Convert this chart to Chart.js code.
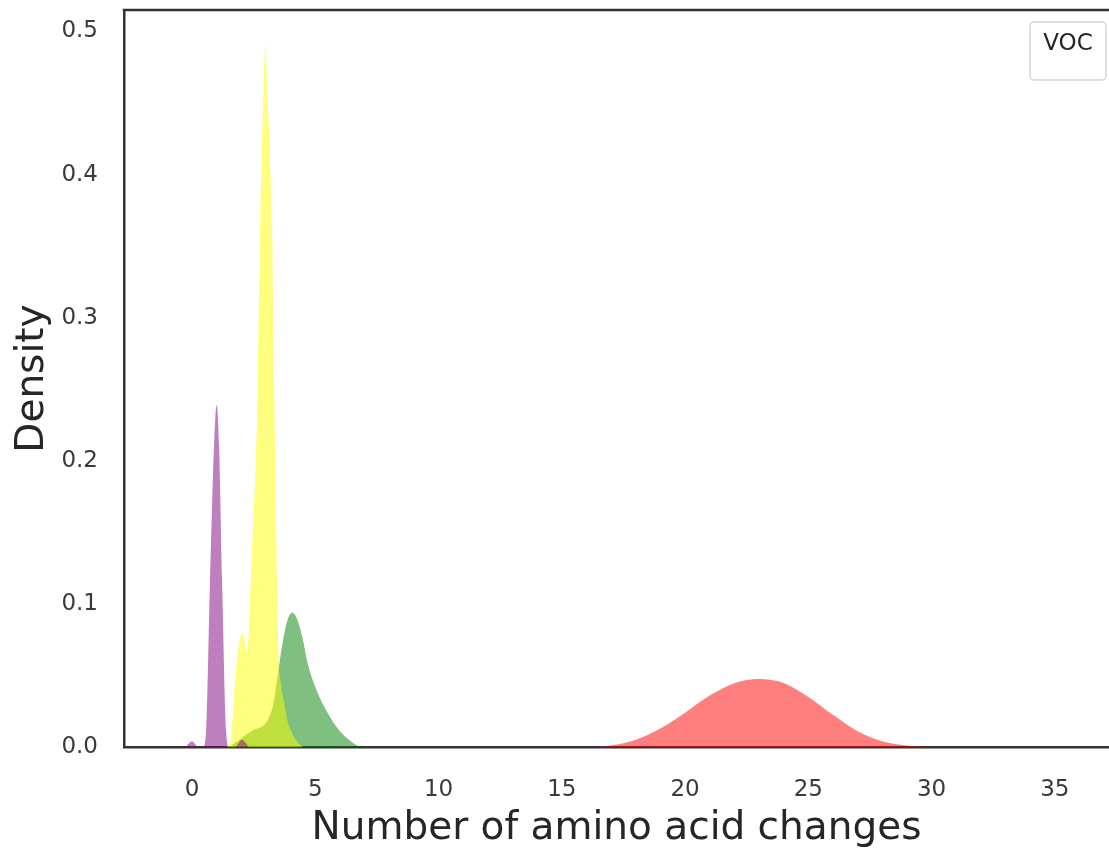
<!DOCTYPE html>
<html>
<head>
<meta charset="utf-8">
<script src="https://cdn.jsdelivr.net/npm/chart.js@4.4.0/dist/chart.umd.min.js"></script>
<style>
  body { margin: 0; background: #fff; }
  #wrap { width: 1109px; height: 852px; }
</style>
</head>
<body>
<div id="wrap"><canvas id="kdeChart" width="1109" height="852"></canvas></div>
<script>
	// density curves (x = amino acid changes, y = density)
	const purpleX = [-0.25, 0, 0.25, 0.45, 0.57, 0.73, 0.89, 1.0, 1.1, 1.22, 1.38, 1.5, 1.75, 2.03, 2.3];
	const purpleY = [0, 0.004, 0, 0, 0.012, 0.117, 0.21, 0.239, 0.21, 0.117, 0.012, 0, 0, 0.005, 0];

	const yellowX = [1.3, 1.55, 1.75, 1.9, 2.03, 2.15, 2.23, 2.44, 2.64, 2.76, 2.9, 2.97, 3.05, 3.25, 3.33, 3.5, 3.6, 3.75, 3.86, 4.0, 4.25, 4.5];
	const yellowY = [0, 0.003, 0.047, 0.072, 0.08, 0.072, 0.066, 0.14, 0.233, 0.36, 0.46, 0.491, 0.46, 0.36, 0.257, 0.07, 0.045, 0.03, 0.019, 0.012, 0.004, 0];

	const greenX = [1.5, 2.0, 2.5, 2.9, 3.1, 3.3, 3.45, 3.6, 3.75, 3.9, 4.07, 4.25, 4.5, 4.67, 5.0, 5.5, 6.0, 6.3, 6.7, 7.0];
	const greenY = [0, 0.006, 0.012, 0.015, 0.02, 0.03, 0.047, 0.065, 0.08, 0.09, 0.094, 0.09, 0.075, 0.06, 0.042, 0.024, 0.011, 0.006, 0.001, 0];

	const redX = [16.5, 17, 18, 19, 20, 21, 22, 22.5, 23, 23.5, 24, 25, 26, 27, 28, 29, 30];
	const redY = [0, 0.001, 0.005, 0.013, 0.024, 0.036, 0.0445, 0.0468, 0.0476, 0.0468, 0.0448, 0.035, 0.0225, 0.011, 0.004, 0.001, 0];

	const xTicks = [0, 5, 10, 15, 20, 25, 30, 35];
	const yTicks = [0, 0.1, 0.2, 0.3, 0.4, 0.5];
	const legendTitle = 'VOC';

	const textColor = '#262626';
	const tickColor = '#3a3a3a';
	const spineColor = '#333333';

	function toPoints(xs, ys) {
		return xs.map((x, i) => ({ x: x, y: ys[i] }));
	}

	function kdeSet(label, xs, ys, color, order) {
		return {
			label: label,
			data: toPoints(xs, ys),
			backgroundColor: color,
			borderWidth: 0,
			pointRadius: 0,
			fill: 'origin',
			cubicInterpolationMode: 'monotone',
			order: order
		};
	}

	// top spine + empty legend box with its title
	const framePlugin = {
		id: 'frame',
		afterDraw(chart) {
			const { ctx, chartArea } = chart;
			ctx.save();
			ctx.strokeStyle = spineColor;
			ctx.lineWidth = 2.5;
			ctx.beginPath();
			ctx.moveTo(chartArea.left - 1.25, chartArea.top);
			ctx.lineTo(chartArea.right, chartArea.top);
			ctx.stroke();

			const bx = chartArea.right - 79, by = chartArea.top + 12, bw = 76, bh = 58;
			ctx.fillStyle = 'rgba(255,255,255,0.8)';
			ctx.strokeStyle = '#d6d6d6';
			ctx.lineWidth = 1.5;
			ctx.beginPath();
			ctx.roundRect(bx, by, bw, bh, 4);
			ctx.fill();
			ctx.stroke();

			ctx.fillStyle = textColor;
			ctx.font = '23px "DejaVu Sans"';
			ctx.textAlign = 'center';
			ctx.textBaseline = 'alphabetic';
			ctx.fillText(legendTitle, bx + bw / 2, by + 28);
			ctx.restore();
		}
	};

	const ctx = document.getElementById('kdeChart').getContext('2d');
	const kdeChart = new Chart(ctx, {
		type: 'line',
		data: {
			datasets: [
				kdeSet('purple', purpleX, purpleY, 'rgba(128,0,128,0.5)', 1),
				kdeSet('yellow', yellowX, yellowY, 'rgba(255,255,0,0.5)', 2),
				kdeSet('green', greenX, greenY, 'rgba(0,128,0,0.5)', 3),
				kdeSet('red', redX, redY, 'rgba(255,0,0,0.5)', 4)
			]
		},
		options: {
			responsive: false,
			animation: false,
			devicePixelRatio: 1,
			layout: { padding: { top: 10, right: 0, left: 0, bottom: 0 } },
			plugins: {
				legend: { display: false },
				tooltip: { enabled: false }
			},
			scales: {
				x: {
					type: 'linear',
					min: -2.76,
					max: 37.2,
					afterBuildTicks: (scale) => { scale.ticks = xTicks.map(v => ({ value: v })); },
					afterFit: (scale) => {
						scale.height = 105;
						scale.paddingLeft = 0;
						scale.paddingRight = 0;
					},
					grid: { display: false },
					border: { display: true, color: spineColor, width: 2.5 },
					ticks: {
						color: tickColor,
						font: { family: 'DejaVu Sans', size: 23 },
						padding: 21,
						maxRotation: 0,
						callback: (v) => String(v)
					},
					title: {
						display: true,
						text: 'Number of amino acid changes',
						color: textColor,
						font: { family: 'DejaVu Sans', size: 39 },
						padding: { top: 0, bottom: 0 }
					}
				},
				y: {
					min: 0,
					max: 0.515,
					afterBuildTicks: (scale) => { scale.ticks = yTicks.map(v => ({ value: v })); },
					afterFit: (scale) => {
						scale.width = 124;
						scale.paddingTop = 0;
						scale.paddingBottom = 0;
					},
					grid: { display: false },
					border: { display: true, color: spineColor, width: 2.5 },
					ticks: {
						color: tickColor,
						font: { family: 'DejaVu Sans', size: 23 },
						padding: 18,
						callback: (v) => v.toFixed(1)
					},
					title: {
						display: true,
						text: 'Density',
						color: textColor,
						font: { family: 'DejaVu Sans', size: 39 },
						padding: { top: 9, bottom: 0 }
					}
				}
			}
		},
		plugins: [framePlugin]
	});
</script>
</body>
</html>
